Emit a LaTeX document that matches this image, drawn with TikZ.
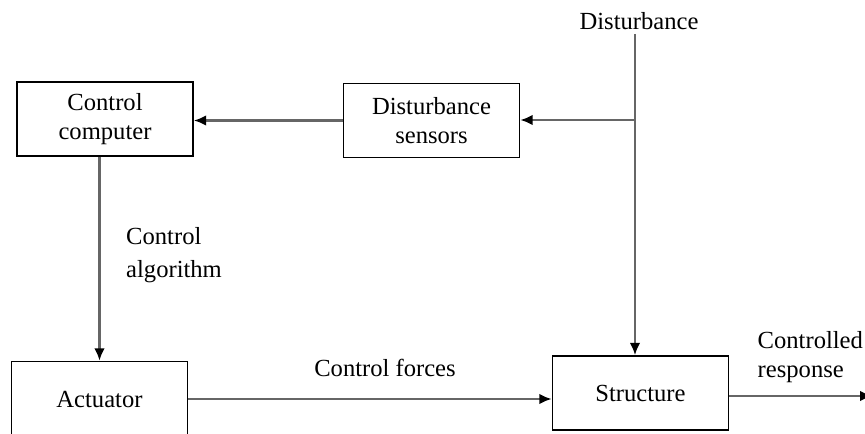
\documentclass[tikz,border=0pt]{standalone}
\usepackage{fontspec}
\setmainfont{Liberation Serif}
\usepackage{tikz}
\usetikzlibrary{arrows.meta}

\begin{document}
\begin{tikzpicture}[
    every node/.style={font=\rmfamily\fontsize{14}{16.5}\selectfont, align=center},
    block/.style={draw, line width=1pt, minimum width=3.52cm, minimum height=1.48cm},
    flow/.style={draw=black!60, line width=1.2pt, -{Latex[length=7pt, width=6pt, color=black]}}
]
\useasboundingbox (0,0) rectangle (17.3,8.66);

\node[block] (comp) at (2.10,6.28) {Control\\computer};
\node[block] (sens) at (8.63,6.25) {Disturbance\\sensors};
\node[block, minimum height=1.50cm] (act) at (1.99,0.68) {Actuator};
\node[block] (struct) at (12.81,0.80) {Structure};

\node (dist) at (12.78,8.24) {Disturbance};
\node[anchor=west, align=left, font=\rmfamily\fontsize{14}{18.5}\selectfont] (alg) at (2.40,3.56) {Control\\algorithm};
\node (forces) at (7.70,1.30) {Control forces};
\node[anchor=west, align=left] (resp) at (15.03,1.52) {Controlled\\response};

\coordinate (top) at (12.70,7.98);
\coordinate (tap) at (12.70,6.26);
\coordinate (out) at (17.45,0.74);

% disturbance path
\draw[flow] (top) -- (struct.north -| top);
\draw[flow] (tap) -- (tap -| sens.east);
\draw[flow] (sens.west) -- (sens.west -| comp.east);

% control path
\draw[flow] (act.north |- comp.south) -- (act.north);
\draw[flow] (act.east) -- (act.east -| struct.west);
\draw[flow] (struct.east |- out) -- (out);
\end{tikzpicture}
\end{document}
